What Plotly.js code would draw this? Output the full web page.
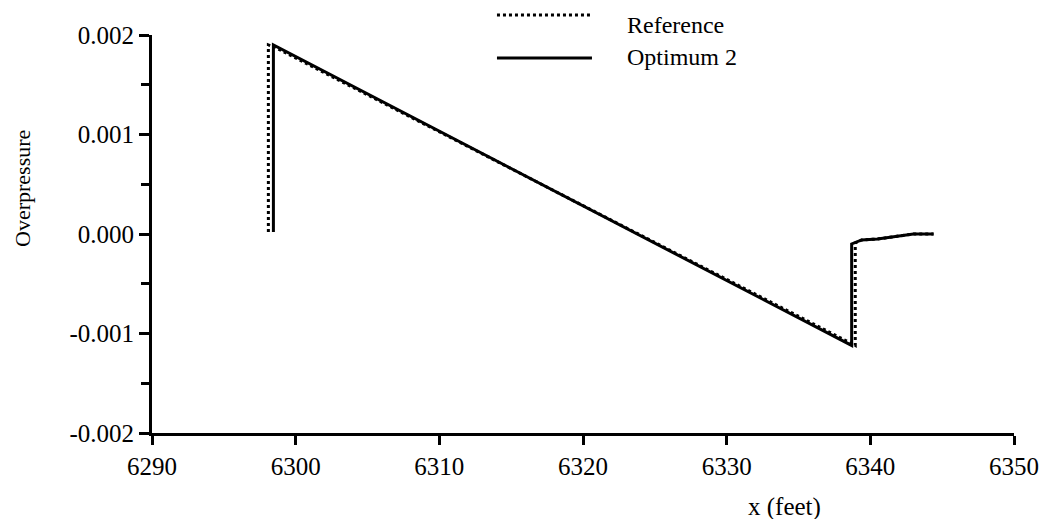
<!DOCTYPE html>
<html>
<head>
<meta charset="utf-8">
<script src="https://cdn.plot.ly/plotly-3.0.1.min.js"></script>
<style>html,body{margin:0;padding:0;background:#fff;}#chart{width:1046px;height:519px;}</style>
</head>
<body>
<div id="chart"></div>
<script>
// Data
const refX = [6298.1, 6298.1, 6298.5, 6338.95, 6338.95, 6339.4, 6340.5, 6341.5, 6342.5, 6343.0, 6344.4];
const refY = [0.00002, 0.0019, 0.00188, -0.00112, -0.00009, -0.00006, -0.00005, -0.00003, -0.00001, 0.0, 0.0];
const optX = [6298.45, 6298.45, 6338.7, 6338.7, 6339.4, 6340.5, 6341.5, 6342.5, 6343.0, 6344.4];
const optY = [0.00002, 0.0019, -0.00112, -0.0001, -0.00006, -0.00005, -0.00003, -0.00001, 0.0, 0.0];
const xTicks = [6290, 6300, 6310, 6320, 6330, 6340, 6350];
const yTicks = [-0.002, -0.001, 0.0, 0.001, 0.002];
const yTickText = ["-0.002", "-0.001", "0.000", "0.001", "0.002"];
const seriesNames = ["Reference", "Optimum 2"];

const fam = "Liberation Serif, Times New Roman, serif";
const font = {family: fam, size: 24, color: "#000"};
const tickFont = {family: fam, size: 25, color: "#000"};

const traces = [
  {x: refX, y: refY, mode: "lines", name: seriesNames[0], line: {color: "#000", width: 3, dash: "dot"}, showlegend: false},
  {x: optX, y: optY, mode: "lines", name: seriesNames[1], line: {color: "#000", width: 3}, showlegend: false}
];

const layout = {
  width: 1046, height: 519,
  margin: {l: 152, r: 32, t: 35, b: 86},
  paper_bgcolor: "#fff", plot_bgcolor: "#fff",
  font: font,
  showlegend: false,
  xaxis: {
    range: [6290, 6350], tickvals: xTicks, ticktext: xTicks.map(String),
    showgrid: false, zeroline: false, showline: true, linecolor: "#000", linewidth: 3,
    ticks: "outside", ticklen: 9, tickwidth: 3, tickcolor: "#000",
    tickfont: tickFont, anchor: "y"
  },
  yaxis: {
    range: [-0.002, 0.002], tickvals: yTicks, ticktext: yTickText,
    showgrid: false, zeroline: false, showline: true, linecolor: "#000", linewidth: 3,
    ticks: "outside", ticklen: 10, tickwidth: 3, tickcolor: "#000",
    minor: {dtick: 0.0005, tick0: 0, ticks: "outside", ticklen: 8, tickwidth: 3, tickcolor: "#000"},
    tickfont: tickFont
  },
  shapes: [
    {type: "line", xref: "paper", yref: "paper", x0: 0.4002, x1: 0.5104, y0: 1.0503, y1: 1.0503, line: {color: "#000", width: 3, dash: "dot"}},
    {type: "line", xref: "paper", yref: "paper", x0: 0.4002, x1: 0.5104, y0: 0.9422, y1: 0.9422, line: {color: "#000", width: 3}}
  ],
  annotations: [
    {xref: "paper", yref: "paper", x: 0.5487, y: 1.0251, xanchor: "left", yanchor: "middle", text: seriesNames[0], showarrow: false, font: font},
    {xref: "paper", yref: "paper", x: 0.5487, y: 0.9447, xanchor: "left", yanchor: "middle", text: seriesNames[1], showarrow: false, font: font},
    {xref: "paper", yref: "paper", x: 0.7343, y: -0.186, xanchor: "center", yanchor: "middle", text: "x (feet)", showarrow: false, font: {family: fam, size: 25, color: "#000"}},
    {xref: "paper", yref: "paper", x: -0.1497, y: 0.6156, xanchor: "center", yanchor: "middle", text: "Overpressure", textangle: -90, showarrow: false, font: {family: fam, size: 22, color: "#000"}}
  ]
};

Plotly.newPlot("chart", traces, layout, {displayModeBar: false, staticPlot: true});
</script>
</body>
</html>
